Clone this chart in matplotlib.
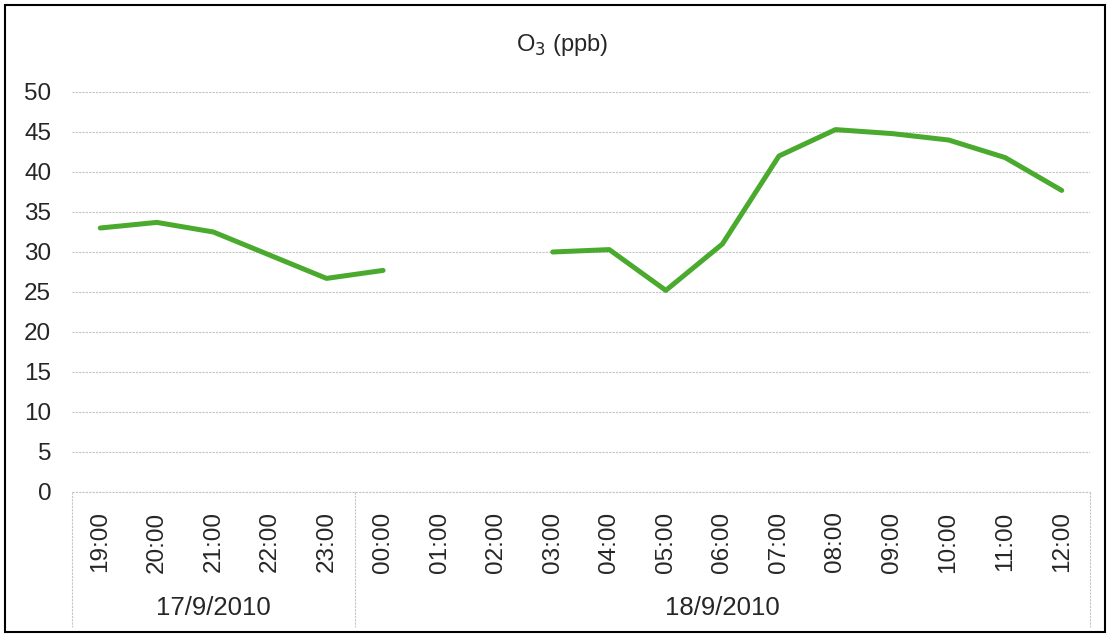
import numpy as np
import matplotlib.pyplot as plt
from matplotlib.patches import Rectangle

plt.rcParams['font.family'] = ['Liberation Sans', 'DejaVu Sans']

# --- data ---
hours = ["19:00", "20:00", "21:00", "22:00", "23:00", "00:00", "01:00", "02:00",
         "03:00", "04:00", "05:00", "06:00", "07:00", "08:00", "09:00", "10:00",
         "11:00", "12:00"]
o3 = [33.0, 33.7, 32.5, 29.6, 26.7, 27.7, np.nan, np.nan,
      30.0, 30.3, 25.2, 31.0, 42.0, 45.3, 44.8, 44.0, 41.8, 37.7]
dates = ["17/9/2010", "18/9/2010"]
date_counts = [5, 13]

fig = plt.figure(figsize=(11.11, 6.37), dpi=100)
ax = fig.add_axes([72 / 1111, 1 - 492 / 637, (1090 - 72) / 1111, 400 / 637])

x = np.arange(len(hours))
ax.plot(x, o3, color='#4AAA2E', lw=3.6, solid_capstyle='round', solid_joinstyle='round')

ax.set_xlim(-0.5, len(hours) - 0.5)
ax.set_ylim(0, 50)
ax.set_yticks(range(0, 51, 5))
ax.yaxis.grid(True, color='#C4C4C4', lw=0.8, ls=(0, (2, 1)))
ax.set_axisbelow(True)
for sp in ax.spines.values():
    sp.set_visible(False)
ax.tick_params(axis='y', length=0, pad=15, labelsize=17.5, colors='#262626')
ax.set_xticks(x)
ax.set_xticklabels(hours, rotation=90, fontsize=17.5, color='#262626', va='top')
ax.tick_params(axis='x', length=0, pad=14)

# chart title (centred on the chart area, like the spreadsheet original)
fig.text(562 / 1111, 1 - 45 / 637, "O$_3$ (ppb)", fontsize=17, color='#262626',
         ha='center', va='center')

# category separators and date labels
trans = ax.get_xaxis_transform()
sep_color = '#C4C4C4'
ax.plot([-0.5, len(hours) - 0.5], [0, 0], transform=trans, color=sep_color,
        lw=0.8, ls=(0, (2, 1)), clip_on=False)
edges = np.concatenate([[0], np.cumsum(date_counts)]) - 0.5
for e in edges:
    ax.plot([e, e], [0, -0.3375], transform=trans, color=sep_color, lw=0.8,
            ls=(0, (2, 1)), clip_on=False)
for d, lo, hi in zip(dates, edges[:-1], edges[1:]):
    ax.text((lo + hi) / 2, -0.29, d, transform=trans, ha='center', va='center',
            fontsize=18.5, color='#262626')

# outer frame
fig.add_artist(Rectangle((5 / 1111, 5 / 637), 1100 / 1111, 627 / 637,
                         transform=fig.transFigure, fill=False, ec='black', lw=1.5))

fig.savefig("out.png", dpi=100)
